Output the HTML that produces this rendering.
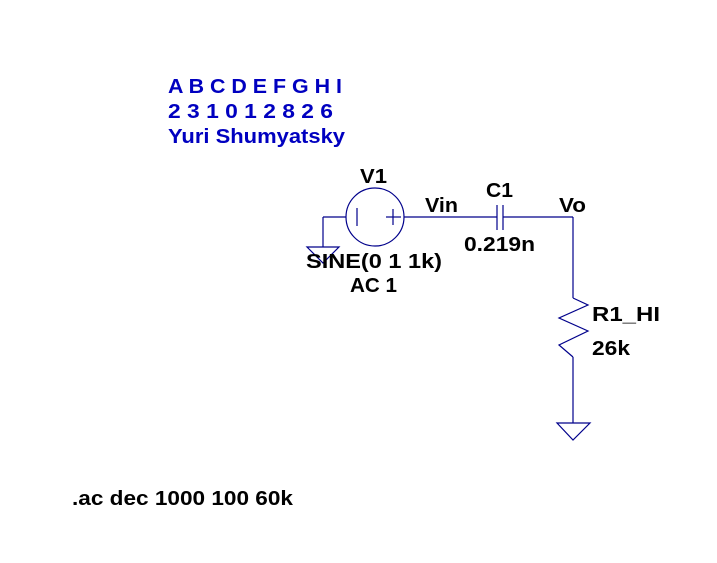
<!DOCTYPE html>
<html><head><style>body{margin:0;background:#fff}svg{display:block}</style></head><body>
<svg width="717" height="563" xmlns="http://www.w3.org/2000/svg" font-family="Liberation Sans, sans-serif" font-weight="bold" font-size="20">
<g stroke="#00008b" stroke-width="1.2" fill="none">
<circle cx="375" cy="217" r="29"/>
<line x1="357" y1="208" x2="357" y2="226"/>
<line x1="386" y1="217" x2="401" y2="217"/>
<line x1="393" y1="209" x2="393" y2="225"/>
<line x1="346" y1="217" x2="323" y2="217"/>
<line x1="323" y1="217" x2="323" y2="247"/>
<polygon points="307,247 339,247 323,263"/>
<line x1="404" y1="217" x2="497" y2="217"/>
<line x1="497" y1="205" x2="497" y2="230"/>
<line x1="503" y1="205" x2="503" y2="230"/>
<line x1="503" y1="217" x2="573" y2="217"/>
<line x1="573" y1="217" x2="573" y2="298"/>
<polyline points="573,298 588,305 559,318 588,331 559,345 573,357"/>
<line x1="573" y1="357" x2="573" y2="423"/>
<polygon points="557,423 590,423 573,440"/>
</g>
<g fill="#0000c0">
<text x="168" y="93" textLength="174" lengthAdjust="spacingAndGlyphs">A B C D E F G H I</text>
<text x="168" y="118" textLength="165" lengthAdjust="spacingAndGlyphs">2 3 1 0 1 2 8 2 6</text>
<text x="168" y="143" textLength="177" lengthAdjust="spacingAndGlyphs">Yuri Shumyatsky</text>
</g>
<g fill="#000">
<text x="360" y="183" textLength="27" lengthAdjust="spacingAndGlyphs">V1</text>
<text x="425" y="212" textLength="33" lengthAdjust="spacingAndGlyphs">Vin</text>
<text x="486" y="197" textLength="27" lengthAdjust="spacingAndGlyphs">C1</text>
<text x="559" y="212" textLength="27" lengthAdjust="spacingAndGlyphs">Vo</text>
<text x="464" y="251" textLength="71" lengthAdjust="spacingAndGlyphs">0.219n</text>
<text x="306" y="268" textLength="136" lengthAdjust="spacingAndGlyphs">SINE(0 1 1k)</text>
<text x="350" y="292" textLength="47" lengthAdjust="spacingAndGlyphs">AC 1</text>
<text x="592" y="321" textLength="68" lengthAdjust="spacingAndGlyphs">R1_HI</text>
<text x="592" y="355" textLength="38" lengthAdjust="spacingAndGlyphs">26k</text>
<text x="72" y="505" textLength="221" lengthAdjust="spacingAndGlyphs">.ac dec 1000 100 60k</text>
</g>
</svg>
</body></html>
